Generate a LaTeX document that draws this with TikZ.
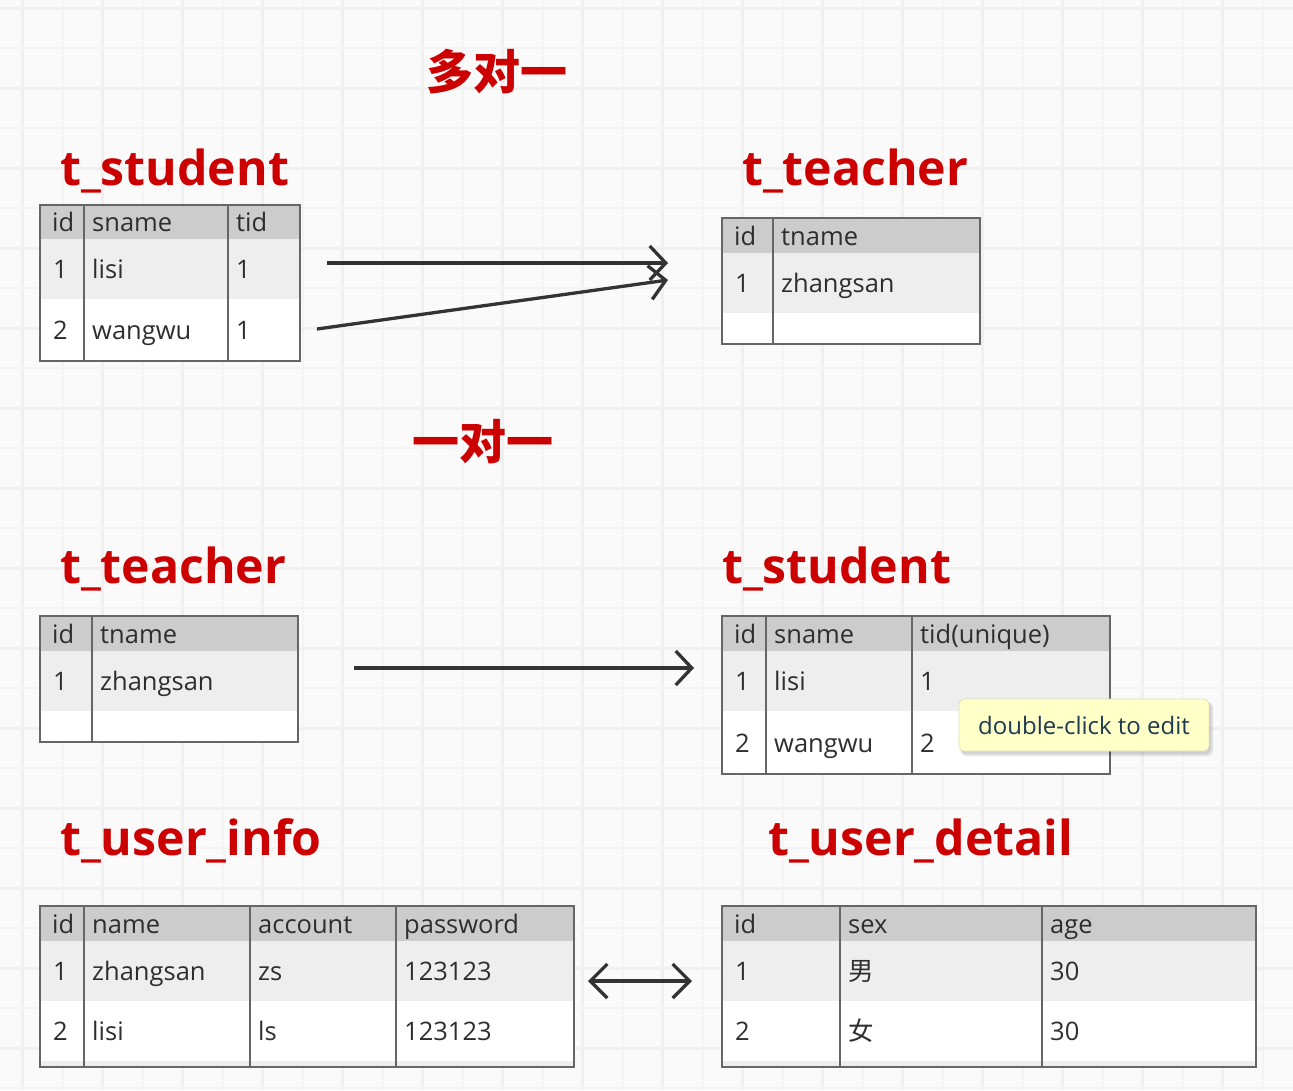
\documentclass[tikz,border=0pt]{standalone}
\usepackage{fontspec}
\setmainfont{Open Sans}
\newfontfamily\cjk{Noto Sans CJK SC}
\usetikzlibrary{arrows.meta}
\definecolor{bgc}{HTML}{FAFAFA}
\definecolor{gmajc}{HTML}{F0F0F0}
\definecolor{gminc}{HTML}{F4F4F4}
\definecolor{hdrc}{HTML}{CCCCCC}
\definecolor{rowc}{HTML}{EEEEEE}
\definecolor{tbc}{HTML}{666666}
\definecolor{txtc}{HTML}{2E2E2E}
\definecolor{ttlc}{HTML}{CC0000}
\definecolor{arrc}{HTML}{333333}
\definecolor{tipc}{HTML}{FFFFC8}
\definecolor{tipbc}{HTML}{E2E2B8}
\definecolor{tiptxt}{HTML}{1F3A50}
\newcommand\tabfont{\fontsize{25.5}{30}\selectfont}
\newcommand\ttlfont{\fontsize{48.2}{58}\selectfont\bfseries}
\begin{document}
\begin{tikzpicture}[x=1pt,y=-1pt,
  gmaj/.style={draw=gmajc,line width=3.5pt},
  gmin/.style={draw=gminc,line width=2pt},
  cell/.style={anchor=base west,inner sep=0pt,font=\tabfont,text=txtc},
  ttl/.style={anchor=base west,inner sep=0pt,font=\ttlfont,text=ttlc},
  cjkttl/.style={anchor=center,inner sep=0pt,font=\cjk\fontsize{47}{56}\selectfont\bfseries,text=ttlc},
  frame/.style={draw=tbc,line width=2pt,fill=none,inner sep=0pt},
  tline/.style={draw=tbc,line width=2pt},
  conn/.style={draw=arrc,line width=3.3pt,-{Straight Barb[length=16pt,width=34pt]}},
  dconn/.style={draw=arrc,line width=3.3pt,{Straight Barb[length=17pt,width=34pt]}-{Straight Barb[length=17pt,width=34pt]}},
  tipbox/.style={fill=tipc,draw=tipbc,line width=0.8pt,rounded corners=5pt,minimum width=250pt,minimum height=52pt,inner sep=0pt,font=\fontsize{24}{28}\selectfont,text=tiptxt}
]
\useasboundingbox (0,0) rectangle (1293,1090);
\fill[bgc] (0,0) rectangle (1293,1090);
% grid
\foreach \i in {0,...,16} {
  \draw[gmin] (62.7+80*\i,0) -- (62.7+80*\i,1090);
  \draw[gmaj] (22.7+80*\i,0) -- (22.7+80*\i,1090);
}
\foreach \i in {0,...,13} {
  \draw[gmin] (0,48.3+80*\i) -- (1293,48.3+80*\i);
  \draw[gmaj] (0,8.3+80*\i) -- (1293,8.3+80*\i);
}

% headings
\node[cjkttl] (h1) at (497,72) {多对一};
\node[cjkttl] (h2) at (483,442) {一对一};

% titles
\node[ttl] (ttl1) at (60,185) {t\_student};
\node[ttl] (ttl2) at (742,185) {t\_teacher};
\node[ttl] (ttl3) at (60,583) {t\_teacher};
\node[ttl] (ttl4) at (722,583) {t\_student};
\node[ttl] (ttl5) at (60,855) {t\_user\_info};
\node[ttl] (ttl6) at (768,855) {t\_user\_detail};

% ---------- table 1: t_student (top left)
\fill[hdrc] (40,205) rectangle (300,239);
\fill[rowc] (40,239) rectangle (300,299);
\fill[white] (40,299) rectangle (300,361);
\draw[tline] (84,205) -- (84,361);
\draw[tline] (228,205) -- (228,361);
\node[frame,minimum width=260pt,minimum height=156pt] (T1) at (170,283) {};
\node[cell] (t1a) at (52,231.5) {id};
\node[cell] (t1b) at (92,231.5) {sname};
\node[cell] (t1c) at (236,231.5) {tid};
\node[cell] (t1d) at (53,278.5) {1};
\node[cell] (t1e) at (92,278.5) {lisi};
\node[cell] (t1f) at (236,278.5) {1};
\node[cell] (t1g) at (53,339.5) {2};
\node[cell] (t1h) at (92,339.5) {wangwu};
\node[cell] (t1i) at (236,339.5) {1};

% ---------- table 2: t_teacher (top right)
\fill[hdrc] (722,218) rectangle (980,253);
\fill[rowc] (722,253) rectangle (980,313);
\fill[white] (722,313) rectangle (980,344);
\draw[tline] (773,218) -- (773,344);
\node[frame,minimum width=258pt,minimum height=126pt] (T2) at (851,281) {};
\node[cell] (t2a) at (734,245) {id};
\node[cell] (t2b) at (781,245) {tname};
\node[cell] (t2c) at (735,292.5) {1};
\node[cell] (t2d) at (781,292.5) {zhangsan};

% ---------- table 3: t_teacher (middle left)
\fill[hdrc] (40,616) rectangle (298,651);
\fill[rowc] (40,651) rectangle (298,711);
\fill[white] (40,711) rectangle (298,742);
\draw[tline] (92,616) -- (92,742);
\node[frame,minimum width=258pt,minimum height=126pt] (T3) at (169,679) {};
\node[cell] (t3a) at (52,643) {id};
\node[cell] (t3b) at (100,643) {tname};
\node[cell] (t3c) at (53,690.5) {1};
\node[cell] (t3d) at (100,690.5) {zhangsan};

% ---------- table 4: t_student (middle right)
\fill[hdrc] (722,616) rectangle (1110,651);
\fill[rowc] (722,651) rectangle (1110,711);
\fill[white] (722,711) rectangle (1110,774);
\draw[tline] (766,616) -- (766,774);
\draw[tline] (912,616) -- (912,774);
\node[frame,minimum width=388pt,minimum height=158pt] (T4) at (916,695) {};
\node[cell] (t4a) at (734,643) {id};
\node[cell] (t4b) at (774,643) {sname};
\node[cell] (t4c) at (920,643) {tid(unique)};
\node[cell] (t4d) at (735,690.5) {1};
\node[cell] (t4e) at (774,690.5) {lisi};
\node[cell] (t4f) at (920,690.5) {1};
\node[cell] (t4g) at (735,752) {2};
\node[cell] (t4h) at (774,752) {wangwu};
\node[cell] (t4i) at (920,752) {2};

% ---------- table 5: t_user_info
\fill[hdrc] (40,906) rectangle (574,941);
\fill[rowc] (40,941) rectangle (574,1001);
\fill[white] (40,1001) rectangle (574,1061);
\fill[rowc] (40,1061) rectangle (574,1067);
\draw[tline] (84,906) -- (84,1067);
\draw[tline] (250,906) -- (250,1067);
\draw[tline] (396,906) -- (396,1067);
\node[frame,minimum width=534pt,minimum height=161pt] (T5) at (307,986.5) {};
\node[cell] (t5a) at (52,933) {id};
\node[cell] (t5b) at (92,933) {name};
\node[cell] (t5c) at (258,933) {account};
\node[cell] (t5d) at (404,933) {password};
\node[cell] (t5e) at (53,980.5) {1};
\node[cell] (t5f) at (92,980.5) {zhangsan};
\node[cell] (t5g) at (258,980.5) {zs};
\node[cell] (t5h) at (404,980.5) {123123};
\node[cell] (t5i) at (53,1040.5) {2};
\node[cell] (t5j) at (92,1040.5) {lisi};
\node[cell] (t5k) at (258,1040.5) {ls};
\node[cell] (t5l) at (404,1040.5) {123123};

% ---------- table 6: t_user_detail
\fill[hdrc] (722,906) rectangle (1256,941);
\fill[rowc] (722,941) rectangle (1256,1001);
\fill[white] (722,1001) rectangle (1256,1061);
\fill[rowc] (722,1061) rectangle (1256,1067);
\draw[tline] (840,906) -- (840,1067);
\draw[tline] (1042,906) -- (1042,1067);
\node[frame,minimum width=534pt,minimum height=161pt] (T6) at (989,986.5) {};
\node[cell] (t6a) at (734,933) {id};
\node[cell] (t6b) at (848,933) {sex};
\node[cell] (t6c) at (1050,933) {age};
\node[cell] (t6d) at (735,980.5) {1};
\node[cell] (t6e) at (848,980.5) {\cjk 男};
\node[cell] (t6f) at (1050,980.5) {30};
\node[cell] (t6g) at (735,1040.5) {2};
\node[cell] (t6h) at (848,1040.5) {\cjk 女};
\node[cell] (t6i) at (1050,1040.5) {30};

% ---------- connectors
\coordinate (a1s) at (327,263);
\coordinate (a1e) at (668,263);
\coordinate (a2s) at (317,329);
\coordinate (a2e) at (668,280);
\coordinate (a3s) at (354,668);
\coordinate (a3e) at (694,668);
\coordinate (a4s) at (588,981);
\coordinate (a4e) at (692,981);
\draw[conn] (a1s) -- (a1e);
\draw[conn] (a2s) -- (a2e);
\draw[conn] (a3s) -- (a3e);
\draw[dconn] (a4s) -- (a4e);

% ---------- tooltip
\fill[black,opacity=0.10,rounded corners=6pt] (961,702) rectangle (1213,756);
\fill[black,opacity=0.08,rounded corners=6pt] (960,701) rectangle (1211,754);
\node[tipbox] (tip) at (1084,725) {double-click to edit};
\end{tikzpicture}
\end{document}
